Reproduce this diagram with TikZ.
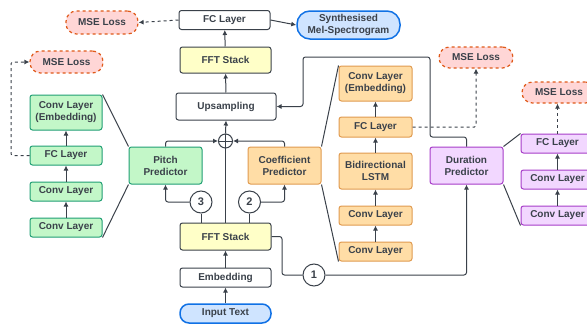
\documentclass[tikz,border=0pt]{standalone}
\usepackage{fontspec}
\setmainfont{Liberation Sans}
\usetikzlibrary{arrows.meta}
\definecolor{txt}{HTML}{3A414A}
\definecolor{gfill}{HTML}{C3F7C8}
\definecolor{gline}{HTML}{1F9E73}
\definecolor{ofill}{HTML}{FFDDA6}
\definecolor{oline}{HTML}{E09A4F}
\definecolor{pfill}{HTML}{F2D7FF}
\definecolor{pline}{HTML}{A63CC8}
\definecolor{yfill}{HTML}{FFFFC8}
\definecolor{bfill}{HTML}{CFE4FF}
\definecolor{bline}{HTML}{1071E5}
\definecolor{rfill}{HTML}{FFD6D6}
\definecolor{rline}{HTML}{E05A1A}
\tikzset{
  box/.style={draw=txt, line width=1pt, rounded corners=2.5pt, text=txt,
    font=\bfseries\fontsize{10}{12}\selectfont, align=center, inner sep=0pt,
    minimum width=91pt, minimum height=19pt, fill=white},
  gbox/.style={box, fill=gfill, draw=gline, minimum width=72pt},
  obox/.style={box, fill=ofill, draw=oline, minimum width=73pt},
  pbox/.style={box, fill=pfill, draw=pline, minimum width=73pt},
  ybox/.style={box, fill=yfill, minimum height=26pt},
  term/.style={box, fill=bfill, draw=bline, line width=1.5pt, rounded corners=9pt},
  loss/.style={box, fill=rfill, draw=rline, dashed, line width=1.2pt,
    minimum width=73pt, minimum height=22pt, rounded corners=10.5pt},
  num/.style={circle, draw=txt, line width=1pt, fill=white, text=txt,
    font=\bfseries\fontsize{11}{12}\selectfont, inner sep=0pt, minimum size=22pt},
  con/.style={draw=txt, line width=1pt},
  arr/.style={con, -{Latex[length=5pt,width=5pt]}},
  darr/.style={arr, dashed},
}
\begin{document}
\begin{tikzpicture}[x=1pt, y=-1pt]
\useasboundingbox (0,0) rectangle (587,324);
\clip (0,0) rectangle (587,324);

% main column
\node[box] (fc) at (224.5,20) {FC Layer};
\node[loss, minimum width=72pt, minimum height=23pt] (mse1) at (102,22.5) {MSE Loss};
\node[term, minimum width=103pt, minimum height=28pt, rounded corners=13pt] (mel) at (348.5,25) {Synthesised\\Mel-Spectrogram};
\node[ybox] (ffttop) at (225.5,60) {FFT Stack};
\node[box, minimum width=100pt, minimum height=27pt] (ups) at (226,106.5) {Upsampling};
\node[circle, draw=txt, line width=1pt, fill=white, minimum size=14pt, inner sep=0pt] (plus) at (225.5,141) {};
\draw[con] (plus.west) -- (plus.east);
\draw[con] (plus.north) -- (plus.south);
\node[ybox, minimum height=27pt] (fftb) at (225.5,236.5) {FFT Stack};
\node[box] (emb) at (225.5,277.5) {Embedding};
\node[term] (input) at (225.5,313.5) {Input Text};
\node[num] (c3) at (201,202) {3};
\node[num] (c2) at (249.5,202) {2};
\node[num] (c1) at (314,275) {1};

% green
\node[loss] (mse2) at (66.5,62) {MSE Loss};
\node[gbox, minimum height=35pt] (gemb) at (66,112.5) {Conv Layer\\(Embedding)};
\node[gbox] (gfc) at (66,155.5) {FC Layer};
\node[gbox] (gc1) at (66,191.5) {Conv Layer};
\node[gbox] (gc2) at (66,227.5) {Conv Layer};
\node[gbox, minimum width=73pt, minimum height=37pt] (pitch) at (165.5,165.5) {Pitch\\Predictor};

% orange
\node[obox, minimum height=37pt] (coef) at (284.5,165.5) {Coefficient\\Predictor};
\node[obox, minimum height=35pt] (oemb) at (375.5,83.5) {Conv Layer\\(Embedding)};
\node[obox, minimum height=20pt] (ofc) at (375.5,127) {FC Layer};
\node[obox, minimum height=36pt] (lstm) at (375.5,171) {Bidirectional\\LSTM};
\node[obox] (oc1) at (375.5,215.5) {Conv Layer};
\node[obox] (oc2) at (375.5,251.5) {Conv Layer};
\node[loss, minimum width=74pt, minimum height=21pt] (mse3) at (476,57.5) {MSE Loss};

% purple
\node[pbox, minimum height=37pt] (dur) at (466.5,165.5) {Duration\\Predictor};
\node[loss, minimum width=74pt, minimum height=21pt] (mse4) at (559,92.5) {MSE Loss};
\node[pbox] (pfc) at (557.5,143.5) {FC Layer};
\node[pbox] (pc1) at (557.5,179.5) {Conv Layer};
\node[pbox] (pc2) at (557.5,215.5) {Conv Layer};

% main connectors
\draw[arr] (input) -- (emb);
\draw[arr] (emb) -- (fftb);
\draw[con] (fftb.north) -- (plus.south);
\draw[arr] (plus.north) -- (ups.south);
\draw[arr] (ups) -- (ffttop);
\draw[arr] (ffttop) -- (fc);
\draw[arr] (fc.east) -- (mel.west);
\draw[darr] (fc.west) -- (mse1.east);

\draw[con] (c3.south) -- (c3.south |- fftb.north);
\draw[arr, rounded corners=2.5pt] (c3.west) -| (pitch.south);
\draw[con] (c2.south) -- (c2.south |- fftb.north);
\draw[arr, rounded corners=2.5pt] (c2.east) -| (coef.south);
\draw[con, rounded corners=2.5pt] (fftb.east) -- (282,236.5) |- (c1.west);
\draw[arr, rounded corners=2.5pt] (c1.east) -| (dur.south);

\draw[arr, rounded corners=2.5pt] (pitch.north) |- (plus.west);
\draw[arr, rounded corners=2.5pt] (coef.north) |- (plus.east);
\draw[arr, rounded corners=2.5pt] (dur.north) |- (430,137) |- (303,57) |- (ups.east);

% green column
\draw[arr] (gc2) -- (gc1);
\draw[arr] (gc1) -- (gfc);
\draw[arr] (gfc) -- (gemb);
\draw[darr, rounded corners=1.5pt] (gfc.west) -- (11,155.5) |- (mse2.west);
\draw[con] (gemb.north east) -- (pitch.north west);
\draw[con] (gc2.south east) -- (pitch.south west);

% orange column
\draw[arr] (oc2) -- (oc1);
\draw[arr] (oc1) -- (lstm);
\draw[arr] (lstm) -- (ofc);
\draw[arr] (ofc) -- (oemb);
\draw[darr, rounded corners=1.5pt] (ofc.east) -| (mse3.south);
\draw[con] (coef.north east) -- (oemb.north west);
\draw[con] (coef.south east) -- (oc2.south west);

% purple column
\draw[arr] (pc2) -- (pc1);
\draw[arr] (pc1) -- (pfc);
\draw[darr] (pfc.north) -- (pfc.north |- mse4.south);
\draw[con] (dur.north east) -- (pfc.north west);
\draw[con] (dur.south east) -- (pc2.south west);
\end{tikzpicture}
\end{document}
